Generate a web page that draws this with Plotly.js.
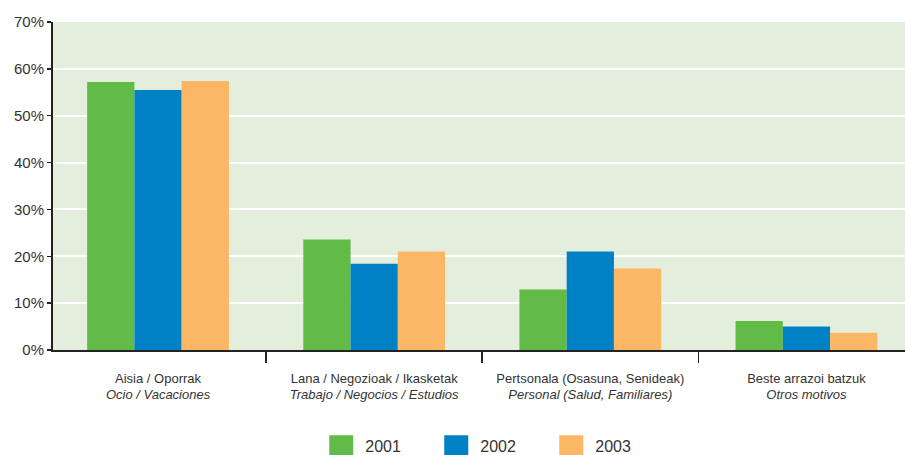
<!DOCTYPE html>
<html>
<head>
<meta charset="utf-8">
<script src="https://cdn.plot.ly/plotly-3.0.1.min.js"></script>
<style>html,body{margin:0;padding:0;background:#fff;}#chart{width:905px;height:455px;}</style>
</head>
<body>
<div id="chart"></div>
<script>
const categories = ["Aisia / Oporrak", "Lana / Negozioak / Ikasketak", "Pertsonala (Osasuna, Senideak)", "Beste arrazoi batzuk"];
const categoriesEs = ["Ocio / Vacaciones", "Trabajo / Negocios / Estudios", "Personal (Salud, Familiares)", "Otros motivos"];
const seriesNames = ["2001", "2002", "2003"];
const values2001 = [57.2, 23.6, 12.9, 6.2];
const values2002 = [55.5, 18.4, 21.0, 5.0];
const values2003 = [57.4, 21.0, 17.4, 3.7];
const yTicks = [0, 10, 20, 30, 40, 50, 60, 70];

const FONT = "'Liberation Sans', Arial, sans-serif";
const colors = ["#62bb46", "#0081c6", "#fbb765"];
const allValues = [values2001, values2002, values2003];

const traces = allValues.map((vals, i) => ({
  type: "bar",
  name: seriesNames[i],
  x: categories,
  y: vals,
  marker: {color: colors[i], line: {width: 0}},
  hoverinfo: "x+y+name"
}));

const layout = {
  width: 905, height: 455,
  margin: {l: 53, r: 0, t: 22, b: 105, autoexpand: false},
  paper_bgcolor: "#ffffff",
  plot_bgcolor: "#e4eedc",
  font: {family: FONT, color: "#333333", size: 14},
  barmode: "group",
  bargap: 0.344,
  bargroupgap: 0,
  showlegend: true,
  legend: {
    orientation: "h", x: 0.522, xanchor: "center", y: -0.292, yanchor: "middle",
    font: {family: FONT, size: 16, color: "#333333"},
    entrywidth: 70, entrywidthmode: "pixels",
    bgcolor: "rgba(0,0,0,0)"
  },
  xaxis: {
    type: "category",
    range: [-0.486, 3.456],
    automargin: false,
    showline: true, linecolor: "#222222", linewidth: 2,
    ticks: "outside", tickson: "boundaries", ticklen: 11, tickwidth: 1.5, tickcolor: "#222222",
    tickangle: 0,
    ticklabelstandoff: 15,
    showgrid: false, zeroline: false,
    tickfont: {family: FONT, size: 13, color: "#333333"},
    fixedrange: true
  },
  xaxis2: {
    type: "linear",
    overlaying: "x", anchor: "y", side: "bottom",
    range: [-0.486, 3.456],
    automargin: false,
    tickmode: "array", tickvals: [0, 1, 2, 3], ticktext: categoriesEs,
    ticks: "", showline: false, showgrid: false, zeroline: false,
    tickangle: 0,
    ticklabelstandoff: 35,
    tickfont: {family: FONT, size: 13, color: "#333333", style: "italic"},
    fixedrange: true
  },
  yaxis: {
    range: [0, 70],
    automargin: false,
    tickmode: "array", tickvals: yTicks, ticktext: yTicks.map(v => v + "%"),
    showline: true, linecolor: "#222222", linewidth: 2,
    ticks: "outside", ticklen: 4, tickwidth: 1.5, tickcolor: "#222222",
    showgrid: true, gridcolor: "#ffffff", gridwidth: 2,
    zeroline: false,
    tickfont: {family: FONT, size: 15, color: "#333333"},
    fixedrange: true
  }
};

// invisible trace so xaxis2 is drawn
const dummy = {type: "scatter", x: [0], y: [0], xaxis: "x2", yaxis: "y", mode: "markers",
  marker: {opacity: 0}, showlegend: false, hoverinfo: "skip"};

Plotly.newPlot("chart", traces.concat([dummy]), layout, {displayModeBar: false, staticPlot: true}).then(gd => {
  gd.querySelectorAll(".legend .legendpoints path").forEach(p => {
    p.setAttribute("d", "M8,10.5H-16V-10.5H8Z");
  });
});
</script>
</body>
</html>
